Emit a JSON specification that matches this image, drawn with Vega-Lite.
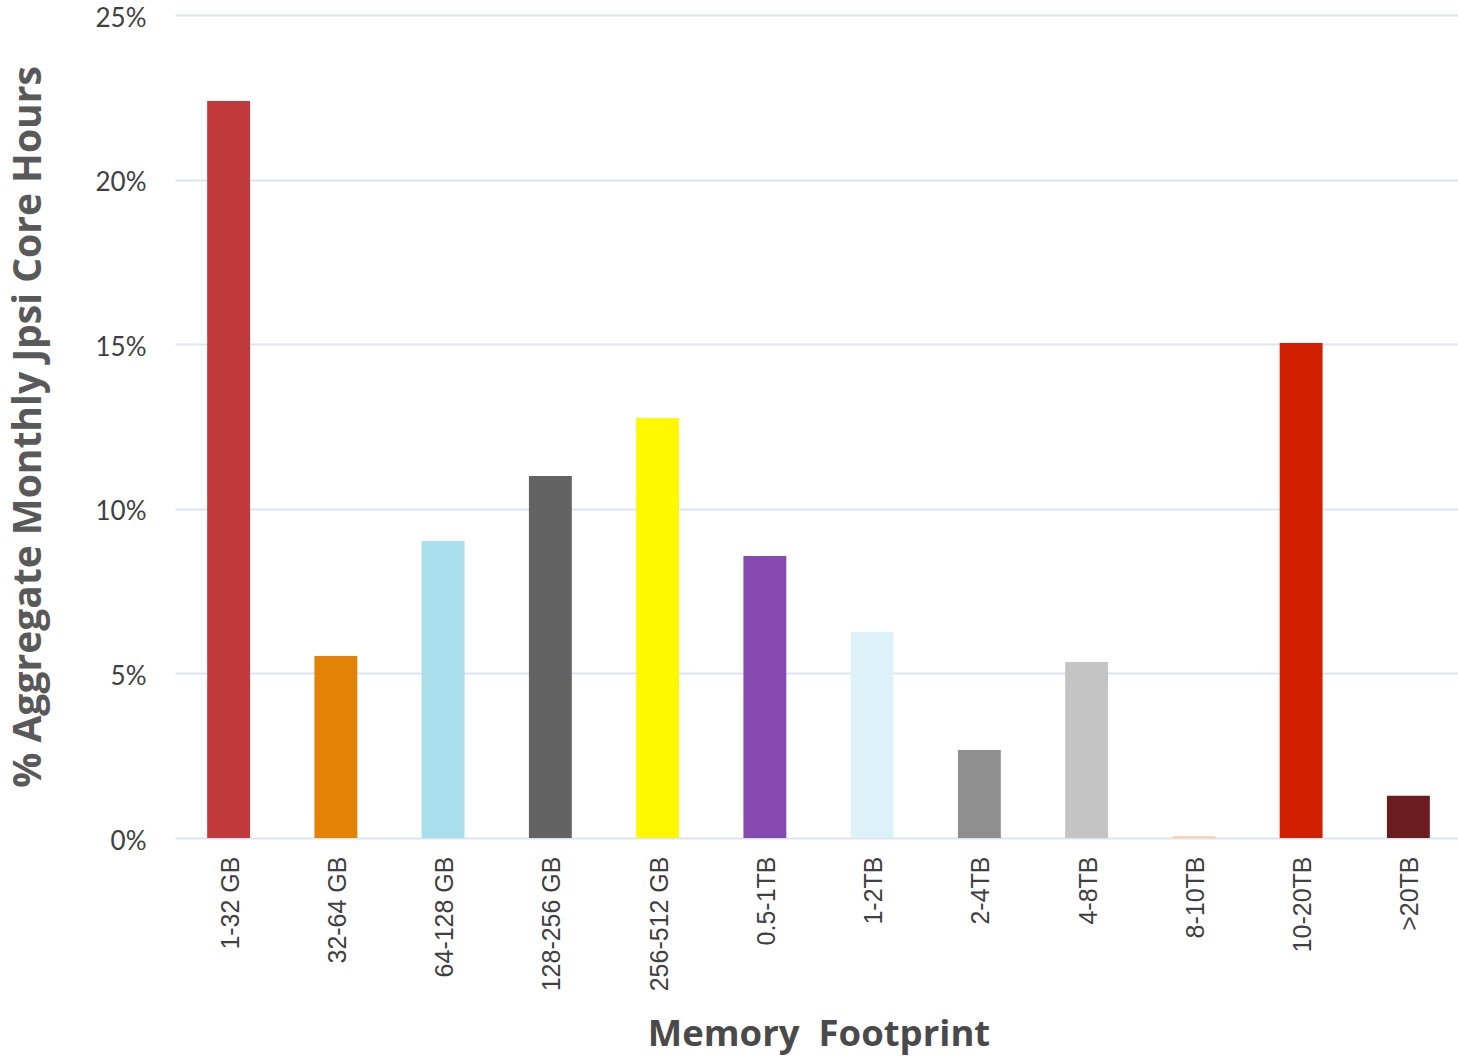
{
  "$schema": "https://vega.github.io/schema/vega-lite/v6.json",
  "autosize": {"type": "none"},
  "width": 1287,
  "height": 823,
  "padding": {"left": 175, "top": 15, "right": 0, "bottom": 220},
  "background": "white",
  "config": {
    "view": {"stroke": null},
    "axis": {"labelFont": "Open Sans", "titleFont": "Open Sans"}
  },
  "data": {
    "values": [
      {"footprint": "1-32 GB", "share": 0.2239},
      {"footprint": "32-64 GB", "share": 0.0553},
      {"footprint": "64-128 GB", "share": 0.0902},
      {"footprint": "128-256 GB", "share": 0.1100},
      {"footprint": "256-512 GB", "share": 0.1276},
      {"footprint": "0.5-1TB", "share": 0.0857},
      {"footprint": "1-2TB", "share": 0.0626},
      {"footprint": "2-4TB", "share": 0.0267},
      {"footprint": "4-8TB", "share": 0.0535},
      {"footprint": "8-10TB", "share": 0.0005},
      {"footprint": "10-20TB", "share": 0.1504},
      {"footprint": ">20TB", "share": 0.0128}
    ]
  },
  "mark": {"type": "bar"},
  "encoding": {
    "x": {
      "field": "footprint",
      "type": "nominal",
      "sort": null,
      "scale": {"paddingInner": 0.6, "paddingOuter": 0.3},
      "axis": {
        "title": "Memory\u00a0 Footprint",
        "titleFont": "Open Sans",
        "titleFontSize": 36.5,
        "titleFontWeight": "bold",
        "titleColor": "#4A4A4A",
        "titlePadding": 26,
        "labelFont": "Liberation Sans",
        "labelFontSize": 25,
        "labelColor": "#404040",
        "labelAngle": -90,
        "labelAlign": "right",
        "labelBaseline": "middle",
        "labelPadding": 18,
        "labelOffset": 2,
        "ticks": false,
        "domain": false,
        "grid": false
      }
    },
    "y": {
      "field": "share",
      "type": "quantitative",
      "scale": {"domain": [0, 0.25], "nice": false},
      "axis": {
        "title": "% Aggregate Monthly Jpsi Core Hours",
        "titleFont": "Open Sans",
        "titleFontSize": 39,
        "titleFontWeight": "bold",
        "titleColor": "#595959",
        "titlePadding": 47,
        "values": [0, 0.05, 0.1, 0.15, 0.2, 0.25],
        "format": ".0%",
        "labelFont": "Lato",
        "labelFontSize": 26,
        "labelColor": "#404040",
        "labelPadding": 29,
        "labelOffset": 3,
        "ticks": false,
        "domain": false,
        "grid": true,
        "gridColor": "#D9E4F7",
        "gridWidth": 2
      }
    },
    "color": {
      "field": "footprint",
      "type": "nominal",
      "sort": null,
      "legend": null,
      "scale": {
        "domain": ["1-32 GB", "32-64 GB", "64-128 GB", "128-256 GB", "256-512 GB", "0.5-1TB", "1-2TB", "2-4TB", "4-8TB", "8-10TB", "10-20TB", ">20TB"],
        "range": ["#C0393B", "#E28308", "#A9DEED", "#636363", "#FFF800", "#8549B0", "#DDF1F8", "#8F8F8F", "#C4C4C4", "#FFCC99", "#D02000", "#6B1C20"]
      }
    }
  }
}
